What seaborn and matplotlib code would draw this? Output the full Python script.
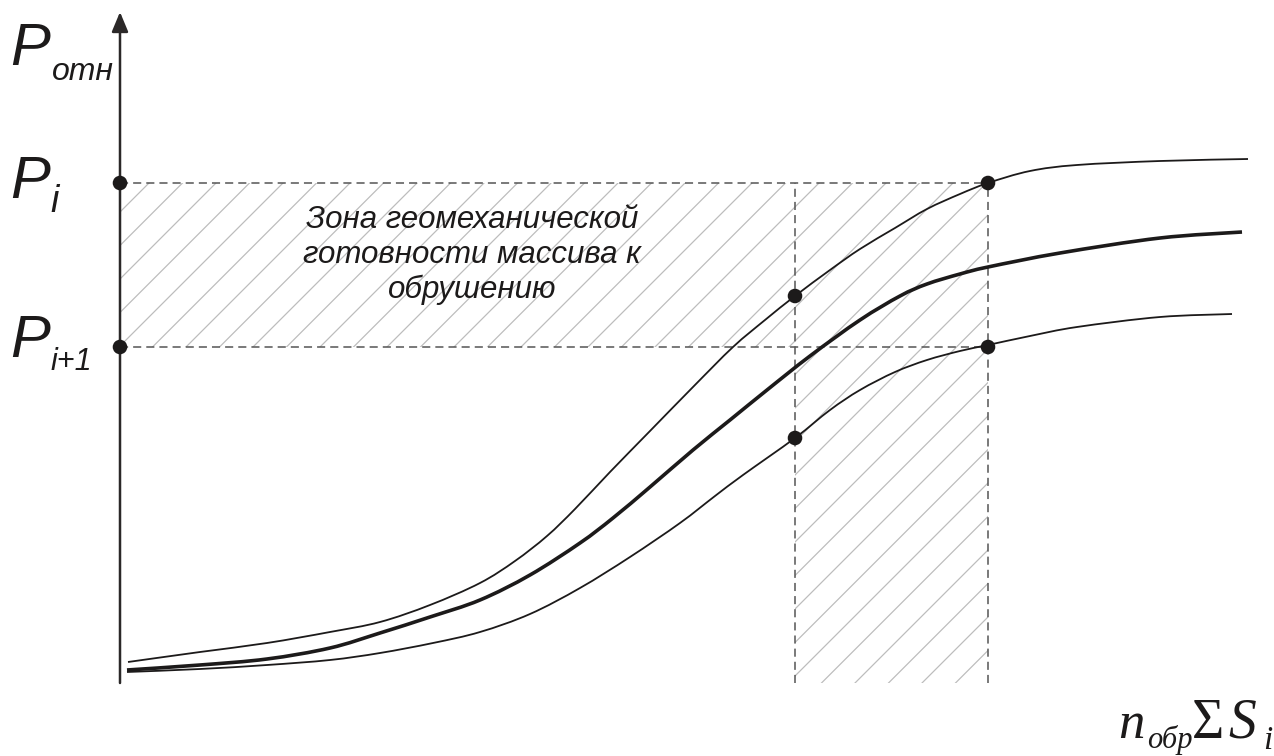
import numpy as np
import matplotlib
matplotlib.use("Agg")
import matplotlib.pyplot as plt
from matplotlib.patches import Polygon, PathPatch
from matplotlib.path import Path
import seaborn as sns

# Relative load P_отн versus n_обр·ΣS_i for three rock-mass states
upper_x = [8, 80, 147, 210, 260, 310, 360, 395, 427, 455, 490, 530, 573, 613,
           645, 675, 710, 740, 775, 807, 840, 868, 910, 957, 1040, 1128]
upper_y = [21, 31, 40, 51, 61, 78, 100, 122, 147, 174, 211, 252, 296, 336,
           363, 387, 413, 434, 455, 474, 489, 500, 512, 518, 522, 524]

middle_x = [7, 80, 147, 210, 260, 310, 360, 410, 460, 493, 530, 573, 610, 647,
            690, 740, 780, 807, 840, 868, 940, 1040, 1122]
middle_y = [13, 18, 24, 35, 50, 66, 83, 108, 140, 165, 196, 233, 263, 293,
            327, 363, 387, 399, 409, 416, 430, 445, 451]

lower_x = [7, 80, 147, 210, 260, 313, 360, 410, 460, 510, 560, 595, 623, 675,
           710, 740, 775, 807, 840, 868, 910, 957, 1040, 1112]
lower_y = [11, 14, 18, 23, 30, 40, 51, 69, 95, 126, 160, 187, 208, 245,
           273, 293, 311, 323, 332, 338, 347, 356, 366, 369]

# Threshold levels and the boundaries of the readiness zone
p_i = 500
p_i1 = 336
x_start = 675
x_end = 868

# Marked points
dot_x = [0, 0, x_end, x_end, x_start, x_start]
dot_y = [p_i, p_i1, p_i, p_i1, 387, 245]

zone_text = "Зона геомеханической\nготовности массива к\nобрушению"


def smooth_path(xs, ys):
    """Cubic Bezier path running through every given point."""
    pts = np.column_stack([xs, ys]).astype(float)
    verts = [pts[0]]
    codes = [Path.MOVETO]
    n = len(pts)
    for i in range(n - 1):
        p0 = pts[i - 1] if i > 0 else pts[i]
        p1, p2 = pts[i], pts[i + 1]
        p3 = pts[i + 2] if i + 2 < n else pts[i + 1]
        verts += [p1 + (p2 - p0) / 6.0, p2 - (p3 - p1) / 6.0, p2]
        codes += [Path.CURVE4] * 3
    return Path(verts, codes)


sns.set_style("white")
fig = plt.figure(figsize=(12.74, 7.56), dpi=100)
ax = fig.add_axes([0, 0, 1, 1])
ax.set_xlim(-120, 1154)
ax.set_ylim(-73, 683)
ax.axis("off")

ink = "#1c1a1a"

# L-shaped hatched zone
zone = Polygon([(0, p_i1), (0, p_i), (x_end, p_i), (x_end, 0),
                (x_start, 0), (x_start, p_i1)], closed=True,
               fc="none", ec="none")
ax.add_patch(zone)
for c in np.arange(471 - 33.5 * 45, 520, 33.5):
    ln, = ax.plot([-200, 1200], [-200 + c, 1200 + c], color="#bdbdbd",
                  lw=0.9, zorder=1)
    ln.set_clip_path(zone)

# Dashed guide lines
dash = dict(color="#555555", lw=1.1, ls=(0, (5.3, 3.3)), zorder=2)
ax.plot([0, x_end], [p_i, p_i], **dash)
ax.plot([0, x_end], [p_i1, p_i1], **dash)
ax.plot([x_start, x_start], [0, p_i], **dash)
ax.plot([x_end, x_end], [0, p_i], **dash)

# Curves
for xs, ys, w in [(upper_x, upper_y, 1.3), (middle_x, middle_y, 2.6),
                  (lower_x, lower_y, 1.3)]:
    ax.add_patch(PathPatch(smooth_path(xs, ys), fill=False, ec=ink, lw=w,
                           capstyle="butt", joinstyle="round", zorder=3))

# Axes with arrows
arrow = dict(arrowstyle="-|>,head_length=0.6,head_width=0.25",
             color="#2b2828", lw=1.8, mutation_scale=20,
             shrinkA=0, shrinkB=0)
ax.annotate("", xy=(0, 671), xytext=(0, 0), arrowprops=arrow, zorder=4)
ax.annotate("", xy=(1156, 0), xytext=(0, 0), arrowprops=arrow, zorder=4)

sns.scatterplot(x=dot_x, y=dot_y, ax=ax, color=ink, s=110,
                edgecolor="none", zorder=5)

# Zone caption
ax.text(352, 428, zone_text, ha="center", va="center", fontsize=22.5,
        family="Liberation Sans", style="italic", color=ink,
        linespacing=1.22, zorder=6)

# Axis labels
sans = dict(family="Liberation Sans", style="italic", color=ink,
            va="baseline", ha="left")
ax.text(-110, 618, "P", fontsize=43, **sans)
ax.text(-68, 603, "отн", fontsize=23, **sans)
ax.text(-110, 485, "P", fontsize=43, **sans)
ax.text(-70, 471, "i", fontsize=27, **sans)
ax.text(-110, 326, "P", fontsize=43, **sans)
ax.text(-70, 313, "i+1", fontsize=22, **sans)

serif = dict(family="Liberation Serif", color=ink, va="baseline", ha="left")
ax.text(998, -55, "n", fontsize=38, style="italic", **serif)
ax.text(1027, -65, "обр", fontsize=22, style="italic", **serif)
ax.text(1072, -55, "Σ", fontsize=40, **serif)
ax.text(1108, -55, "S", fontsize=40, style="italic", **serif)
ax.text(1143, -66, "i", fontsize=24, style="italic", **serif)

fig.savefig("out.png", dpi=100)
